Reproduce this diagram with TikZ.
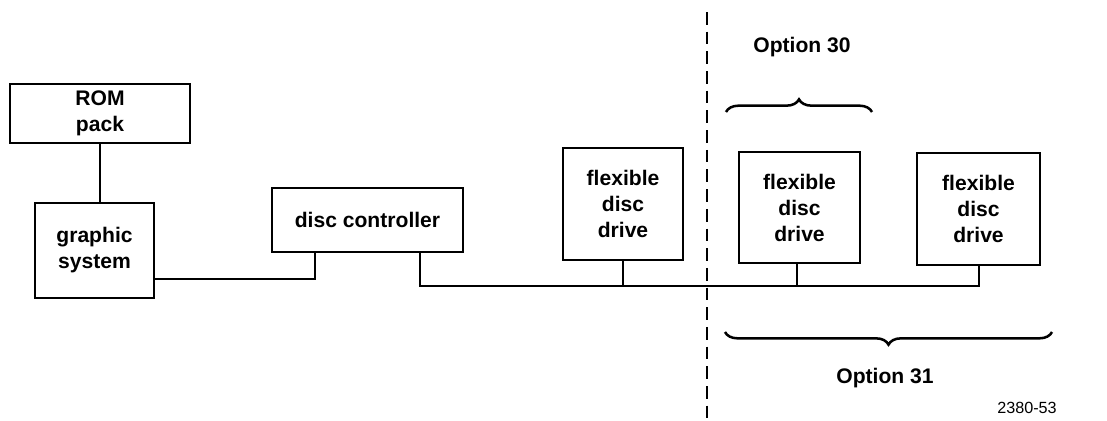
\documentclass[tikz,border=0pt]{standalone}
\usepackage{fontspec}
\setmainfont{Liberation Sans}
\usetikzlibrary{positioning,decorations.pathreplacing}

\begin{document}
\begin{tikzpicture}[x=0.025cm, y=-0.025cm, line width=1.8pt,
    unitbox/.style={draw, inner sep=0pt, align=center,
                font=\fontsize{15}{18.5}\selectfont\bfseries},
    optlabel/.style={font=\fontsize{15}{17}\selectfont\bfseries},
    optbrace/.style={decorate, decoration={brace, amplitude=9pt}}
  ]
    \useasboundingbox (0,0) rectangle (1107,421);
    % units
    \node[unitbox, minimum width=4.5cm, minimum height=1.475cm]   (rom)  at (100,113.5) {ROM\\pack};
    \node[unitbox, minimum width=2.975cm, minimum height=2.375cm] (gfx)  at (94.5,250.5) {graphic\\system};
    \node[unitbox, minimum width=4.775cm, minimum height=1.6cm]   (ctrl) at (367.5,220) {disc controller};
    \node[unitbox, minimum width=3cm, minimum height=2.8cm]       (dA)   at (623,204) {flexible\\disc\\drive};
    \node[unitbox, minimum width=3.025cm, minimum height=2.775cm] (dB)   at (799.5,207.5) {flexible\\disc\\drive};
    \node[unitbox, minimum width=3.075cm, minimum height=2.8cm]   (dC)   at (978.5,209) {flexible\\disc\\drive};
    % cabling
    \coordinate (romtap) at (100,143);
    \coordinate (gfxtap) at (315,279);
    \coordinate (busL)   at (420,286);
    \coordinate (busR)   at (979,286);
    \draw (romtap) -- (romtap |- gfx.north);
    \draw (gfx.east |- gfxtap) -- (gfxtap) -- (gfxtap |- ctrl.south);
    \draw (busL |- ctrl.south) -- (busL) -- (busR) -- (busR |- dC.south);
    \draw (dA.south -| 623,0) -- (busL -| 623,0);
    \draw (dB.south -| 797,0) -- (busL -| 797,0);
    % options
    \draw[line width=1pt, dash pattern=on 9pt off 5pt] (707,12) coordinate (cutT) -- (707,421) coordinate (cutB);
    \node[optlabel] (opt30) at (802,47) {Option 30};
    \draw[optbrace] (726,112) -- (872,112);
    \draw[optbrace] (1052,332) -- (725,332);
    \node[optlabel] (opt31) at (885,378) {Option 31};
    \node[font=\fontsize{11.5}{13}\selectfont] (fig) at (1027,408) {2380-53};
  \end{tikzpicture}
\end{document}
